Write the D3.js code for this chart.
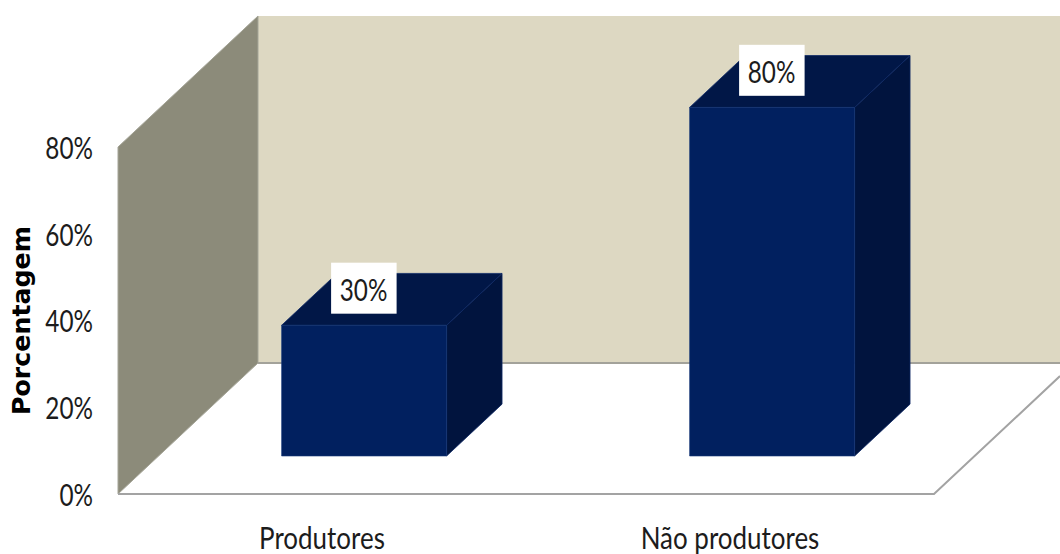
<!DOCTYPE html>
<html><head><meta charset="utf-8">
<script src="https://cdnjs.cloudflare.com/ajax/libs/d3/7.8.5/d3.min.js"></script>
<style>html,body{margin:0;padding:0;background:#fff}svg{display:block}</style>
</head><body><svg id="c" width="1060" height="554"></svg>
<script>
const categories = ["Produtores", "Não produtores"];
const seriesValues = [30, 80];
const tickValues = [0, 20, 40, 60, 80];
const axisTitle = "Porcentagem";

const svg = d3.select("#c");
const x = d3.scaleBand().domain(categories).range([118, 934]);
const y = d3.scaleLinear().domain([0, 80]).range([494, 147]);
const yBar = d3.scaleLinear().domain([0, 80]).range([494, 145.4]);
const depth = d3.scaleLinear().domain([0, 1]).range([0, 140]);
const depthY = d3.scaleLinear().domain([0, 1]).range([0, -131]);
const P = (px, v, d, s = y) => [px + depth(d), s(v) + depthY(d)];
const poly = pts => "M" + pts.map(p => p.join(",")).join("L") + "Z";
const wallL = x.range()[0], wallR = x.range()[1], wallTop = 80;

// back wall (runs off the picture on the right)
svg.append("path").attr("d", poly([P(wallL,0,1),P(wallL,wallTop,1),[1060,P(wallL,wallTop,1)[1]],[1060,P(wallL,0,1)[1]]])).attr("fill","#ddd8c2");
// side wall
svg.append("path").attr("d", poly([P(wallL,0,0),P(wallL,wallTop,0),P(wallL,wallTop,1),P(wallL,0,1)])).attr("fill","#8c8b7a").attr("stroke","#a5a598").attr("stroke-width",1);
// floor
svg.append("path").attr("d", `M${P(wallL,0,1)}L1060,${P(wallL,0,1)[1]}`).attr("stroke","#a3a29a").attr("stroke-width",2).attr("fill","none");
svg.append("path").attr("d", `M${P(wallL,0,0)}L${P(wallR,0,0)}L${P(wallR,0,0.9)}`).attr("stroke","#a3a3a3").attr("stroke-width",2).attr("fill","none");

// bars
const barW = 165, dF = 0.29, dB = 0.686, shift = 1.5;
const bars = svg.selectAll("g.bar").data(categories.map((c,i)=>({c,v:seriesValues[i]}))).join("g").attr("class","bar");
bars.each(function(d){
  const g = d3.select(this), x0 = x(d.c)+x.bandwidth()/2-barW/2+shift, x1 = x0+barW;
  const Q = (px,v,dd) => P(px,v,dd,yBar);
  g.append("path").attr("d", poly([Q(x1,0,dF),Q(x1,d.v,dF),Q(x1,d.v,dB),Q(x1,0,dB)])).attr("fill","#01143e").attr("stroke","#0f2a66").attr("stroke-width",0.8);
  g.append("path").attr("d", poly([Q(x0,d.v,dF),Q(x0,d.v,dB),Q(x1,d.v,dB),Q(x1,d.v,dF)])).attr("fill","#011747").attr("stroke","#0f2a66").attr("stroke-width",0.8);
  g.append("path").attr("d", poly([Q(x0,0,dF),Q(x0,d.v,dF),Q(x1,d.v,dF),Q(x1,0,dF)])).attr("fill","#01205f").attr("stroke","#1a3a7a").attr("stroke-width",0.6);
  const cx = Q(x0+barW/2,d.v,dF)[0], ty = Q(x0,d.v,dF)[1];
  g.append("rect").attr("x",cx-33).attr("y",ty-62.6).attr("width",65.5).attr("height",51).attr("fill","#fff");
  g.append("text").attr("x",cx-0.5).attr("y",ty-24).attr("text-anchor","middle").attr("class","t pct").text(d.v+"%");
});

// axes
const yAxis = d3.axisLeft(y).tickValues(tickValues).tickSize(0).tickPadding(25).tickFormat(d=>d+"%");
const ag = svg.append("g").attr("transform",`translate(${wallL},0)`).call(yAxis);
ag.select(".domain").remove();
const xAxis = d3.axisBottom(x).tickSize(0).tickPadding(0);
const bg = svg.append("g").attr("transform","translate(0,524)").call(xAxis);
bg.select(".domain").remove();
svg.selectAll(".tick text").attr("class","t").attr("dy",null);
ag.selectAll("text").attr("dy","0.38em").classed("pct",true);
bg.selectAll("text").attr("dy","0.82em");
svg.selectAll(".t").attr("font-family","Lato, sans-serif").attr("font-size",30).attr("fill","#1c1c1c");
svg.append("text").attr("transform","translate(30,320.5) rotate(-90)").attr("text-anchor","middle")
  .attr("font-family","DejaVu Sans").attr("font-weight","bold").attr("font-size",24).attr("fill","#000")
  .attr("textLength",189).attr("lengthAdjust","spacingAndGlyphs").text(axisTitle);
// condense the text horizontally to the reference's narrow face
svg.selectAll(".t").each(function(){
  const t=d3.select(this), w=this.getComputedTextLength();
  t.attr("textLength",w*(t.classed("pct")?0.81:0.865)).attr("lengthAdjust","spacingAndGlyphs");
});
</script></body></html>
